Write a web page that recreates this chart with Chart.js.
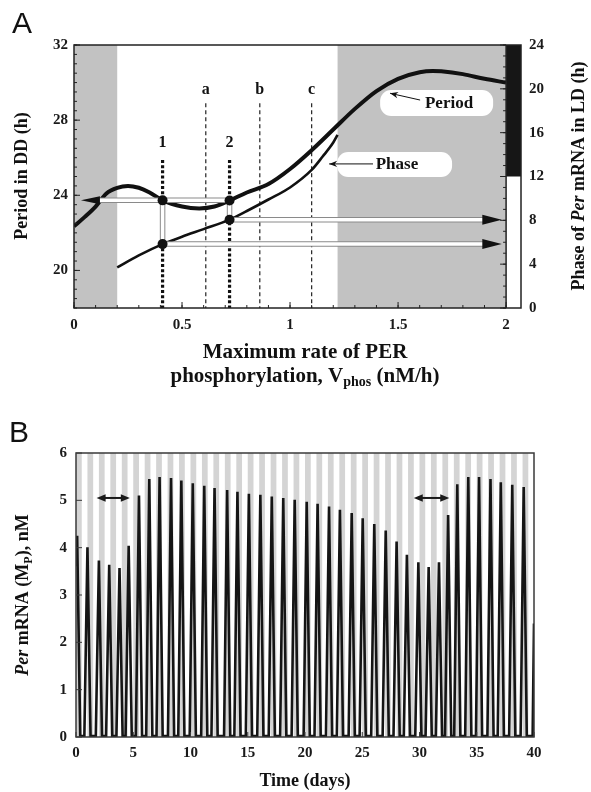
<!DOCTYPE html>
<html>
<head>
<meta charset="utf-8">
<script src="https://cdn.jsdelivr.net/npm/chart.js@4.4.0/dist/chart.umd.min.js"></script>
<style>
  body { margin: 0; background: #fff; }
  #wrap { position: relative; width: 591px; height: 792px; }
  canvas { position: absolute; left: 0; }
  #chartA { top: 0; }
  #chartB { top: 400px; }
</style>
</head>
<body>
<div id="wrap">
  <canvas id="chartA" width="591" height="400"></canvas>
  <canvas id="chartB" width="591" height="392"></canvas>
</div>
<script>
// ---------- panel A : period / phase vs Vphos ----------
const periodV = [0, 0.05, 0.1, 0.15, 0.2, 0.25, 0.3, 0.35, 0.41, 0.5, 0.58, 0.65, 0.72, 0.8, 0.9, 1.0, 1.1, 1.2, 1.3, 1.4, 1.5, 1.6, 1.66, 1.7, 1.8, 1.9, 2.0];
const periodH = [22.35, 22.85, 23.4, 24.1, 24.4, 24.5, 24.4, 24.15, 23.73, 23.4, 23.3, 23.4, 23.72, 24.15, 24.6, 25.4, 26.4, 27.5, 28.6, 29.55, 30.2, 30.55, 30.62, 30.6, 30.45, 30.2, 30.0];
const phaseV = [0.2, 0.3, 0.41, 0.5, 0.6, 0.72, 0.8, 0.9, 1.0, 1.1, 1.15, 1.2, 1.22];
const phaseH = [3.7, 4.8, 5.83, 6.5, 7.2, 8.06, 8.85, 9.9, 11.0, 12.6, 13.8, 15.1, 15.8];

const xTicksA = [0, 0.5, 1, 1.5, 2];
const periodTicks = [20, 24, 28, 32];
const phaseTicks = [0, 4, 8, 12, 16, 20, 24];

const shadedV = [[0, 0.2], [1.22, 2]];
const guideABC = [0.61, 0.86, 1.10];
const guideABCNames = ['a', 'b', 'c'];
const guide12 = [0.41, 0.72];
const guide12Names = ['1', '2'];

const dotV = [0.41, 0.72];
const dotPeriod = [23.73, 23.72];
const dotPhase = [5.83, 8.06];

// white connector bands: [x0, y0, x1, y1, axis]
const bands = [
  [0.10, 23.73, 0.72, 23.73, 'y'],
  [0.41, 23.73, 0.41, 21.40, 'y'],
  [0.72, 23.72, 0.72, 22.70, 'y'],
  [0.41, 5.83, 1.90, 5.83, 'y2'],
  [0.72, 8.06, 1.90, 8.06, 'y2']
];
// arrow heads: [tipX, baseX, y, axis, halfHeight]
const headsA = [
  [0.032, 0.12, 23.73, 'y', 4],
  [1.98, 1.89, 5.83, 'y2', 5],
  [1.98, 1.89, 8.06, 'y2', 5]
];

const curveNames = ['Period', 'Phase'];
const nameBoxV = [[1.417, 1.94], [1.218, 1.75]];
const nameBoxH = [[29.6, 28.22], [26.3, 24.97]];
const nameAt = [[1.736, 28.91], [1.495, 25.67]];
const nameArrowFrom = [[1.602, 29.07], [1.384, 25.67]];
const nameArrowTo = [[1.463, 29.43], [1.181, 25.67]];

// ---------- panel B : Per mRNA time course ----------
const peakDays = [0.1, 1.0, 2.0, 2.9, 3.8, 4.6, 5.5, 6.4, 7.3, 8.3, 9.2, 10.2, 11.2, 12.1, 13.2, 14.1, 15.1, 16.1, 17.1, 18.1, 19.1,
  20.15, 21.1, 22.1, 23.05, 24.08, 25.04, 26.05, 27.05, 28.0, 28.9, 29.9, 30.8, 31.7, 32.5, 33.3, 34.26, 35.2, 36.2, 37.1, 38.1, 39.1];
const peakMp = [4.25, 4.01, 3.73, 3.64, 3.57, 4.04, 5.10, 5.45, 5.49, 5.47, 5.42, 5.36, 5.31, 5.26, 5.22, 5.18, 5.14, 5.12, 5.08, 5.05, 5.01,
  4.97, 4.93, 4.87, 4.80, 4.73, 4.62, 4.50, 4.36, 4.13, 3.85, 3.69, 3.59, 3.69, 4.69, 5.34, 5.49, 5.49, 5.45, 5.38, 5.33, 5.28];
// start of each rise and end of each fall (trace near zero in between)
const riseDays = [0.73, 1.73, 2.63, 3.53, 4.33, 5.23, 6.13, 7.03, 8.03, 8.93, 9.93, 10.93, 11.83, 12.93, 13.83, 14.83, 15.83, 16.83, 17.83, 18.83,
  19.88, 20.83, 21.83, 22.78, 23.81, 24.77, 25.78, 26.78, 27.73, 28.63, 29.63, 30.53, 31.43, 32.23, 33.03, 33.99, 34.93, 35.93, 36.83, 37.83, 38.83, 39.88];
const fallDays = [0.37, 1.27, 2.27, 3.17, 4.07, 4.87, 5.77, 6.67, 7.57, 8.57, 9.47, 10.47, 11.47, 12.37, 13.47, 14.37, 15.37, 16.37, 17.37, 18.37, 19.37,
  20.42, 21.37, 22.37, 23.32, 24.35, 25.31, 26.32, 27.32, 28.27, 29.17, 30.17, 31.07, 31.97, 32.77, 33.57, 34.53, 35.47, 36.47, 37.37, 38.37, 39.37];
const troughMp = 0.02;
const edgeDays = [0, 40];
const edgeMp = [3.6, 2.4];

const xTicksB = [0, 5, 10, 15, 20, 25, 30, 35, 40];
const mpTicks = [0, 1, 2, 3, 4, 5, 6];
const spanArrowsB = [[1.8, 4.7], [29.5, 32.6]];
const spanArrowMp = 5.05;

// ---------- helpers ----------
const serif = '"Liberation Serif", "Times New Roman", serif';
Chart.defaults.font.family = serif;
Chart.defaults.font.weight = 'bold';
Chart.defaults.font.size = 15;
Chart.defaults.color = '#1a1a1a';

function pts(xs, ys) { return xs.map((v, i) => ({ x: v, y: ys[i] })); }

function head(ctx, tipX, tipY, baseX, half) {
  ctx.beginPath();
  ctx.moveTo(tipX, tipY);
  ctx.lineTo(baseX, tipY - half);
  ctx.lineTo(baseX, tipY + half);
  ctx.closePath();
  ctx.fill();
}

// mixed-style text, centred on (x, y), optional rotation
function rich(ctx, parts, x, y, rot, size) {
  ctx.save();
  ctx.translate(x, y);
  ctx.rotate(rot || 0);
  ctx.textAlign = 'left';
  ctx.textBaseline = 'alphabetic';
  let w = 0;
  parts.forEach(p => { ctx.font = p.f; w += ctx.measureText(p.t).width; });
  let cx = -w / 2;
  const base = size * 0.35;
  parts.forEach(p => {
    ctx.font = p.f;
    ctx.fillText(p.t, cx, base + (p.dy || 0));
    cx += ctx.measureText(p.t).width;
  });
  ctx.restore();
}

function ticksY(ctx, scale, xPos, values, len, dir) {
  values.forEach(v => {
    const py = scale.getPixelForValue(v);
    ctx.beginPath(); ctx.moveTo(xPos, py); ctx.lineTo(xPos + dir * len, py); ctx.stroke();
  });
}
function ticksX(ctx, scale, yPos, values, len) {
  values.forEach(v => {
    const p = scale.getPixelForValue(v);
    ctx.beginPath(); ctx.moveTo(p, yPos); ctx.lineTo(p, yPos - len); ctx.stroke();
  });
}
function range(a, b, step) {
  const out = [];
  for (let v = a; v <= b + 1e-9; v += step) out.push(+v.toFixed(3));
  return out;
}

const B = 'bold 18px ' + serif;
const BI = 'italic bold 18px ' + serif;

// ---------- panel A ----------
const bandSets = [];
bands.forEach(b => {
  const d = [{ x: b[0], y: b[1] }, { x: b[2], y: b[3] }];
  bandSets.push({ data: d, yAxisID: b[4], borderColor: '#8a8a8a', borderWidth: 5.5, borderCapStyle: 'butt', order: 4 });
  bandSets.push({ data: d, yAxisID: b[4], borderColor: '#ffffff', borderWidth: 3.5, borderCapStyle: 'butt', order: 3 });
});

const guideSets = [
  ...guideABC.map(v => ({ data: [{ x: v, y: 28.9 }, { x: v, y: 18 }], yAxisID: 'y', borderColor: '#222', borderWidth: 1.2, borderDash: [4, 3], order: 7 })),
  ...guide12.map(v => ({ data: [{ x: v, y: 25.88 }, { x: v, y: 18 }], yAxisID: 'y', borderColor: '#111', borderWidth: 3.2, borderDash: [3, 2.2], order: 7 }))
];

const panelA = {
  id: 'panelA',
  beforeDatasetsDraw(chart) {
    const { ctx, chartArea: a, scales: { x, y, y2 } } = chart;
    ctx.save();
    ctx.fillStyle = '#c2c2c2';
    shadedV.forEach(([s, e]) => {
      const p0 = x.getPixelForValue(s), p1 = x.getPixelForValue(e);
      ctx.fillRect(p0, a.top, p1 - p0, a.bottom - a.top);
    });
    const bx = x.getPixelForValue(2);
    ctx.fillStyle = '#161616';
    ctx.fillRect(bx, y2.getPixelForValue(24), a.right - bx, y2.getPixelForValue(12) - y2.getPixelForValue(24));
    ctx.fillStyle = '#fff';
    nameBoxV.forEach((bv, i) => {
      const l = x.getPixelForValue(bv[0]), r = x.getPixelForValue(bv[1]);
      const t = y.getPixelForValue(nameBoxH[i][0]), btm = y.getPixelForValue(nameBoxH[i][1]);
      ctx.beginPath();
      ctx.roundRect(l, t, r - l, btm - t, 11);
      ctx.fill();
    });
    ctx.restore();
  },
  afterDatasetsDraw(chart) {
    const { ctx, chartArea: a, scales: { x, y, y2 } } = chart;
    ctx.save();
    ctx.fillStyle = '#111';
    headsA.forEach(h => {
      const sc = h[3] === 'y' ? y : y2;
      head(ctx, x.getPixelForValue(h[0]), sc.getPixelForValue(h[2]), x.getPixelForValue(h[1]), h[4]);
    });
    // guide labels
    ctx.font = 'bold 16px ' + serif;
    ctx.textAlign = 'center';
    ctx.textBaseline = 'middle';
    guideABC.forEach((v, i) => ctx.fillText(guideABCNames[i], x.getPixelForValue(v), y.getPixelForValue(29.6)));
    guide12.forEach((v, i) => ctx.fillText(guide12Names[i], x.getPixelForValue(v), y.getPixelForValue(26.78)));
    // curve names + pointers
    ctx.font = 'bold 17px ' + serif;
    curveNames.forEach((n, i) => ctx.fillText(n, x.getPixelForValue(nameAt[i][0]), y.getPixelForValue(nameAt[i][1]) + 1));
    ctx.strokeStyle = '#111';
    ctx.lineWidth = 1;
    nameArrowFrom.forEach((f, i) => {
      const x0 = x.getPixelForValue(f[0]), y0 = y.getPixelForValue(f[1]);
      const x1 = x.getPixelForValue(nameArrowTo[i][0]), y1 = y.getPixelForValue(nameArrowTo[i][1]);
      ctx.beginPath(); ctx.moveTo(x0, y0); ctx.lineTo(x1, y1); ctx.stroke();
      const ang = Math.atan2(y1 - y0, x1 - x0);
      ctx.save();
      ctx.translate(x1, y1); ctx.rotate(ang);
      ctx.beginPath(); ctx.moveTo(0, 0); ctx.lineTo(-8, -3.2); ctx.lineTo(-5.5, 0); ctx.lineTo(-8, 3.2); ctx.closePath(); ctx.fill();
      ctx.restore();
    });
    // frame + ticks
    ctx.strokeStyle = '#222';
    ctx.lineWidth = 1.5;
    ctx.strokeRect(a.left, a.top, a.right - a.left, a.bottom - a.top);
    const bx = x.getPixelForValue(2);
    ctx.beginPath(); ctx.moveTo(bx, a.top); ctx.lineTo(bx, a.bottom); ctx.stroke();
    ctx.lineWidth = 1;
    ticksY(ctx, y, a.left, periodTicks, 6, 1);
    ticksY(ctx, y, a.left, range(18, 32, 0.5), 3, 1);
    ticksY(ctx, y2, bx, phaseTicks, 6, -1);
    ticksY(ctx, y2, bx, range(0, 24, 1), 3, -1);
    ticksX(ctx, x, a.bottom, xTicksA, 6);
    ticksX(ctx, x, a.bottom, range(0, 2, 0.1), 3);
    ctx.restore();
  },
  afterDraw(chart) {
    const { ctx } = chart;
    ctx.save();
    ctx.fillStyle = '#111';
    ctx.font = '30px "Liberation Sans", Arial, sans-serif';
    ctx.textAlign = 'center'; ctx.textBaseline = 'middle';
    ctx.fillText('A', 22, 25);
    rich(ctx, [{ t: 'Period in DD (h)', f: B }], 21, 176, -Math.PI / 2, 18);
    rich(ctx, [{ t: 'Phase of ', f: B }, { t: 'Per', f: BI }, { t: ' mRNA in LD (h)', f: B }], 578, 176, -Math.PI / 2, 18);
    const B21 = 'bold 21px ' + serif;
    rich(ctx, [{ t: 'Maximum rate of PER', f: B21 }], 305, 351, 0, 21);
    rich(ctx, [{ t: 'phosphorylation, V', f: B21 }, { t: 'phos', f: 'bold 14px ' + serif, dy: 4 }, { t: ' (nM/h)', f: B21 }], 305, 375, 0, 21);
    ctx.restore();
  }
};

new Chart(document.getElementById('chartA'), {
  type: 'line',
  data: {
    datasets: [
      { data: pts(periodV, periodH), yAxisID: 'y', borderColor: '#111', borderWidth: 4, cubicInterpolationMode: 'monotone', order: 5 },
      { data: pts(phaseV, phaseH), yAxisID: 'y2', borderColor: '#111', borderWidth: 2.6, cubicInterpolationMode: 'monotone', order: 5 },
      ...guideSets,
      ...bandSets,
      { data: pts(dotV, dotPeriod), yAxisID: 'y', showLine: false, pointRadius: 5, pointBackgroundColor: '#111', pointBorderWidth: 0, order: 1 },
      { data: pts(dotV, dotPhase), yAxisID: 'y2', showLine: false, pointRadius: 5, pointBackgroundColor: '#111', pointBorderWidth: 0, order: 1 }
    ]
  },
  options: {
    responsive: false,
    animation: false,
    layout: { padding: { top: 45 } },
    elements: { point: { radius: 0 }, line: { fill: false } },
    plugins: { legend: { display: false }, tooltip: { enabled: false } },
    scales: {
      x: {
        type: 'linear', min: 0, max: 2.069,
        afterBuildTicks: s => { s.ticks = xTicksA.map(v => ({ value: v })); },
        afterFit: s => { s.height = 92; },
        grid: { display: false, drawTicks: false }, border: { display: false },
        ticks: { padding: 8, callback: v => String(v) }
      },
      y: {
        position: 'left', min: 18, max: 32,
        afterBuildTicks: s => { s.ticks = periodTicks.map(v => ({ value: v })); },
        afterFit: s => { s.width = 74; },
        grid: { display: false, drawTicks: false }, border: { display: false },
        ticks: { padding: 6, callback: v => String(v) }
      },
      y2: {
        position: 'right', min: 0, max: 24,
        afterBuildTicks: s => { s.ticks = phaseTicks.map(v => ({ value: v })); },
        afterFit: s => { s.width = 70; },
        grid: { display: false, drawTicks: false }, border: { display: false },
        ticks: { padding: 8, callback: v => String(v) }
      }
    }
  },
  plugins: [panelA]
});

// ---------- panel B ----------
const mpData = [
  ...pts(peakDays, peakMp),
  ...riseDays.map(d => ({ x: d, y: troughMp })),
  ...fallDays.map(d => ({ x: d, y: troughMp })),
  ...pts(edgeDays, edgeMp)
].sort((p, q) => p.x - q.x);

const panelB = {
  id: 'panelB',
  beforeDatasetsDraw(chart) {
    const { ctx, chartArea: a, scales: { x } } = chart;
    ctx.save();
    ctx.fillStyle = '#d4d4d4';
    for (let d = 0; d < 40; d++) {
      const p0 = x.getPixelForValue(d), p1 = x.getPixelForValue(d + 0.5);
      ctx.fillRect(p0, a.top, p1 - p0, a.bottom - a.top);
    }
    ctx.restore();
  },
  afterDatasetsDraw(chart) {
    const { ctx, chartArea: a, scales: { x, y } } = chart;
    ctx.save();
    ctx.fillStyle = '#1a1a1a';
    ctx.strokeStyle = '#1a1a1a';
    ctx.lineWidth = 2;
    spanArrowsB.forEach(([s, e]) => {
      const p0 = x.getPixelForValue(s), p1 = x.getPixelForValue(e), py = y.getPixelForValue(spanArrowMp);
      ctx.beginPath(); ctx.moveTo(p0 + 6, py); ctx.lineTo(p1 - 6, py); ctx.stroke();
      head(ctx, p0, py, p0 + 9, 3.8);
      head(ctx, p1, py, p1 - 9, 3.8);
    });
    ctx.strokeStyle = '#3a3a3a';
    ctx.lineWidth = 1.5;
    ctx.strokeRect(a.left, a.top, a.right - a.left, a.bottom - a.top);
    ctx.lineWidth = 1;
    ticksY(ctx, y, a.left, mpTicks, 6, 1);
    ticksX(ctx, x, a.bottom, xTicksB, 5);
    ctx.restore();
  },
  afterDraw(chart) {
    const { ctx } = chart;
    ctx.save();
    ctx.fillStyle = '#111';
    ctx.font = '30px "Liberation Sans", Arial, sans-serif';
    ctx.textAlign = 'center'; ctx.textBaseline = 'middle';
    ctx.fillText('B', 19, 34);
    rich(ctx, [{ t: 'Per', f: BI }, { t: ' mRNA (M', f: B }, { t: 'P', f: 'bold 12px ' + serif, dy: 4 }, { t: '), nM', f: B }], 22, 195, -Math.PI / 2, 18);
    rich(ctx, [{ t: 'Time (days)', f: B }], 305, 380, 0, 18);
    ctx.restore();
  }
};

new Chart(document.getElementById('chartB'), {
  type: 'line',
  data: {
    datasets: [
      { data: mpData, borderColor: '#151515', borderWidth: 2.6, tension: 0, pointRadius: 0, fill: false, borderJoinStyle: 'miter' }
    ]
  },
  options: {
    responsive: false,
    animation: false,
    layout: { padding: { top: 53, right: 57 } },
    plugins: { legend: { display: false }, tooltip: { enabled: false } },
    scales: {
      x: {
        type: 'linear', min: 0, max: 40,
        afterBuildTicks: s => { s.ticks = xTicksB.map(v => ({ value: v })); },
        afterFit: s => { s.height = 55; },
        grid: { display: false, drawTicks: false }, border: { display: false },
        ticks: { padding: 7, callback: v => String(v) }
      },
      y: {
        min: 0, max: 6,
        afterBuildTicks: s => { s.ticks = mpTicks.map(v => ({ value: v })); },
        afterFit: s => { s.width = 76; },
        grid: { display: false, drawTicks: false }, border: { display: false },
        ticks: { padding: 9, callback: v => String(v) }
      }
    }
  },
  plugins: [panelB]
});
</script>
</body>
</html>
